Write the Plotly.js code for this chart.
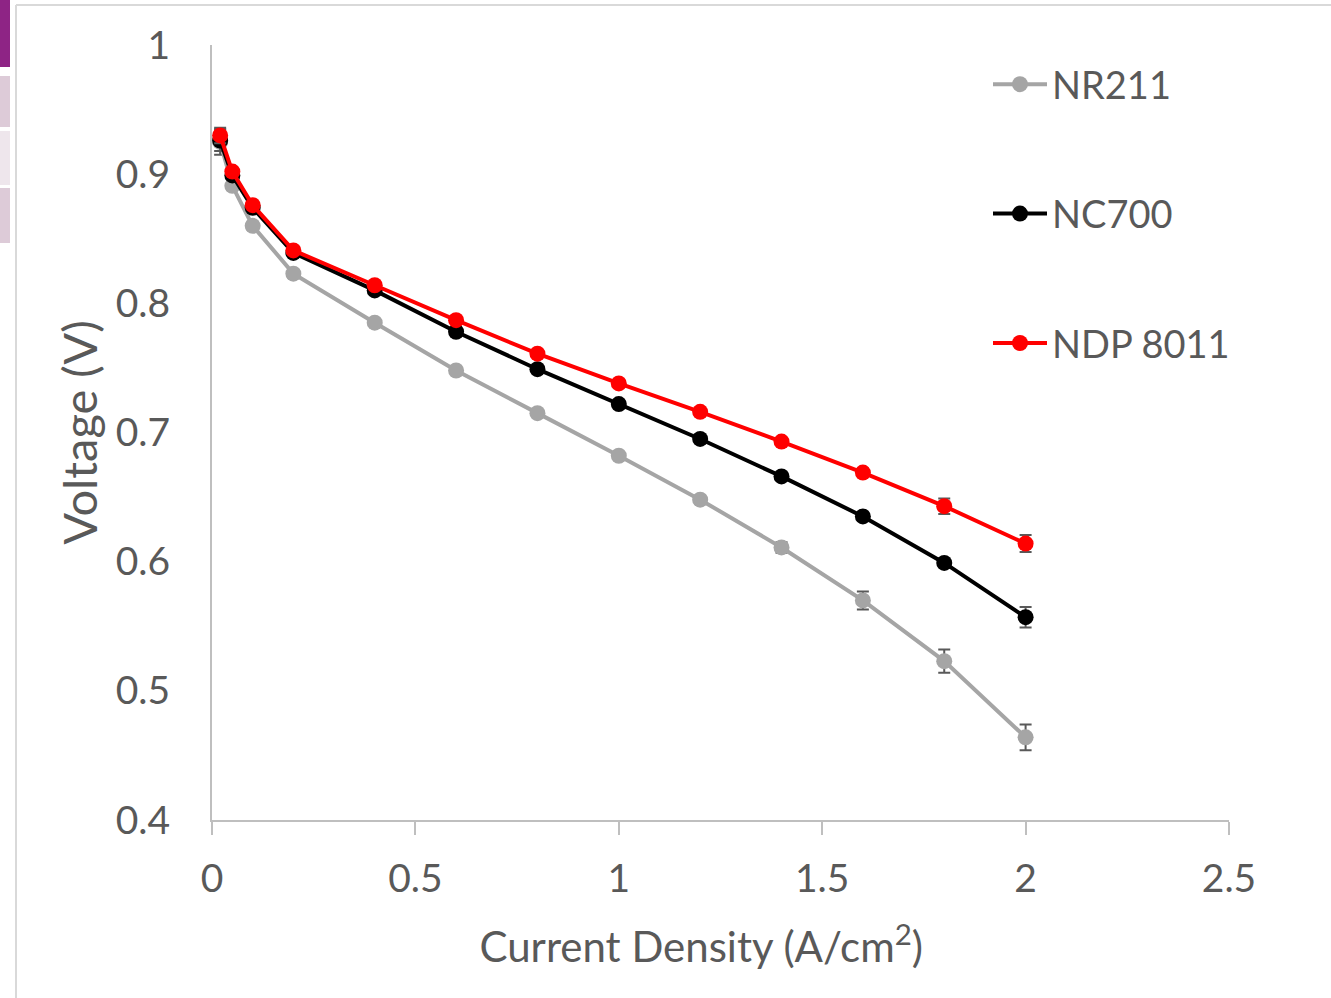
<!DOCTYPE html>
<html>
<head>
<meta charset="utf-8">
<script src="https://cdn.plot.ly/plotly-3.0.1.min.js"></script>
<style>
  html, body { margin: 0; padding: 0; background: #fff; }
  #chart { width: 1331px; height: 998px; }
</style>
</head>
<body>
<div id="chart"></div>
<script>
// ---- data ----
const currentDensity = [0.02, 0.05, 0.1, 0.2, 0.4, 0.6, 0.8, 1.0, 1.2, 1.4, 1.6, 1.8, 2.0];

const seriesNames = ["NR211", "NC700", "NDP 8011"];

const voltageNR211  = [0.925, 0.891, 0.860, 0.823, 0.785, 0.748, 0.715, 0.682, 0.648, 0.611, 0.570, 0.523, 0.464];
const voltageNC700  = [0.926, 0.899, 0.874, 0.839, 0.810, 0.778, 0.749, 0.722, 0.695, 0.666, 0.635, 0.599, 0.557];
const voltageNDP8011 = [0.930, 0.902, 0.876, 0.841, 0.814, 0.787, 0.761, 0.738, 0.716, 0.693, 0.669, 0.643, 0.614];

const errNR211  = [0.010, 0.003, 0.003, 0.003, 0.002, 0.002, 0.002, 0.002, 0.003, 0.004, 0.007, 0.009, 0.010];
const errNC700  = [0.008, 0.003, 0.002, 0.002, 0.002, 0.002, 0.002, 0.002, 0.002, 0.002, 0.002, 0.003, 0.008];
const errNDP8011 = [0.006, 0.003, 0.002, 0.002, 0.002, 0.002, 0.002, 0.002, 0.002, 0.002, 0.003, 0.006, 0.0066];

const xTickValues = [0, 0.5, 1, 1.5, 2, 2.5];
const xTickLabels = ["0", "0.5", "1", "1.5", "2", "2.5"];
const yTickValues = [0.4, 0.5, 0.6, 0.7, 0.8, 0.9, 1];
const yTickLabels = ["0.4", "0.5", "0.6", "0.7", "0.8", "0.9", "1"];

// ---- styling ----
const FONT = "Lato, 'Open Sans', sans-serif";
const TXT = "#595959";
const colors = ["#A5A5A5", "#000000", "#FF0000"];
const yData = [voltageNR211, voltageNC700, voltageNDP8011];
const eData = [errNR211, errNC700, errNDP8011];

const traces = seriesNames.map((name, i) => ({
  type: "scatter",
  mode: "lines+markers",
  name: name,
  legendgroup: "g" + i,
  x: currentDensity,
  y: yData[i],
  line: { color: colors[i], width: 4 },
  marker: { color: colors[i], size: 16, symbol: "circle" },
  error_y: { type: "data", array: eData[i], visible: true, color: "#595959", thickness: 2, width: 6 }
}));

// plot area in pixels: l=212, r=1229, t=45, b=820
const L = 212, R = 1229, T = 45, B = 820;
const px = v => (v - L) / (R - L);
const py = v => 1 - (v - T) / (B - T);

const shapes = [
  // frame lines (top and left)
  { type: "line", xref: "paper", yref: "paper", x0: px(16), x1: px(1331), y0: py(5), y1: py(5), line: { color: "#D9D9D9", width: 2 } },
  { type: "line", xref: "paper", yref: "paper", x0: px(16), x1: px(16), y0: py(5), y1: py(998), line: { color: "#D9D9D9", width: 2 } },
  // left edge colored tabs
  { type: "rect", xref: "paper", yref: "paper", x0: px(0), x1: px(10), y0: py(0), y1: py(67), fillcolor: "#8E2485", line: { width: 0 } },
  { type: "rect", xref: "paper", yref: "paper", x0: px(0), x1: px(10), y0: py(76), y1: py(127), fillcolor: "#DDCBD8", line: { width: 0 } },
  { type: "rect", xref: "paper", yref: "paper", x0: px(0), x1: px(10), y0: py(131), y1: py(185), fillcolor: "#EEE6EC", line: { width: 0 } },
  { type: "rect", xref: "paper", yref: "paper", x0: px(0), x1: px(10), y0: py(188), y1: py(243), fillcolor: "#DDCBD8", line: { width: 0 } }
];

const layout = {
  width: 1331,
  height: 998,
  margin: { l: L, r: 1331 - R, t: T, b: 998 - B },
  paper_bgcolor: "#FFFFFF",
  plot_bgcolor: "#FFFFFF",
  font: { family: FONT, color: TXT, size: 40 },
  showlegend: true,
  legend: {
    x: px(988), y: py(53), xanchor: "left", yanchor: "top",
    font: { family: FONT, size: 38, color: TXT },
    tracegroupgap: 77,
    itemwidth: 54,
    bgcolor: "rgba(0,0,0,0)"
  },
  xaxis: {
    range: [0, 2.5],
    tickmode: "array", tickvals: xTickValues, ticktext: xTickLabels,
    showgrid: false, zeroline: false,
    showline: true, linecolor: "#BFBFBF", linewidth: 2,
    ticks: "outside", ticklen: 13, tickwidth: 2, tickcolor: "#BFBFBF",
    tickfont: { family: FONT, size: 39, color: TXT },
    ticklabelstandoff: 10,
    title: {
      text: "Current Density (A/cm<sup>2</sup>)<span style=\"color:rgba(255,255,255,0)\">__</span>",
      font: { family: FONT, size: 42, color: TXT }, standoff: 34
    },
    automargin: false
  },
  yaxis: {
    range: [0.4, 1],
    tickmode: "array", tickvals: yTickValues, ticktext: yTickLabels,
    showgrid: false, zeroline: false,
    showline: true, linecolor: "#BFBFBF", linewidth: 2,
    ticks: "",
    tickfont: { family: FONT, size: 39, color: TXT },
    ticklabelstandoff: 32,
    title: { text: "Voltage (V)", font: { family: FONT, size: 47, color: TXT }, standoff: 3 },
    automargin: false
  },
  shapes: shapes
};

Plotly.newPlot("chart", traces, layout, { staticPlot: true, displayModeBar: false });
</script>
</body>
</html>
